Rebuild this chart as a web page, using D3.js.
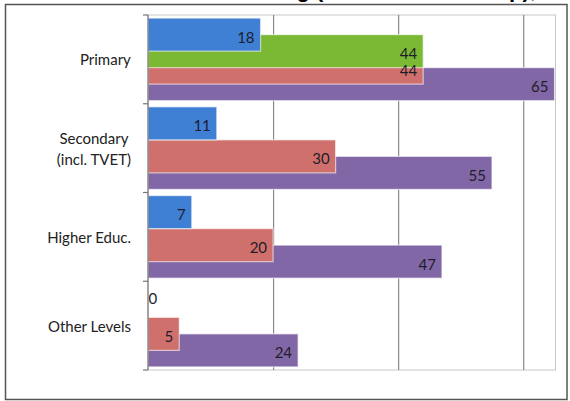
<!DOCTYPE html>
<html>
<head>
<meta charset="utf-8">
<script src="https://cdn.jsdelivr.net/npm/d3@7"></script>
<style>
  html, body { margin: 0; padding: 0; background: #fff; }
  svg { display: block; }
</style>
</head>
<body>
<svg id="chart" width="570" height="401"></svg>
<script>
// ---- data ----
const categories = ["Primary", "Secondary\n(incl. TVET)", "Higher Educ.", "Other Levels"];
const seriesNames = ["Series 1", "Series 2", "Series 3", "Series 4"];
const series1 = [18, 11, 7, 0];
const series2 = [44, null, null, null];
const series3 = [44, 30, 20, 5];
const series4 = [65, 55, 47, 24];
const xTicks = [0, 20, 40, 60];
const titleText = "Enrolment in Schooling (Share of the Group),";

// ---- styles ----
const colors = ["#3f7fd4", "#7bb834", "#d0706c", "#8167a5"];
const seriesValues = [series1, series2, series3, series4];

const W = 570, H = 401;
const plot = { left: 148, right: 554.5, top: 15, bottom: 370 };
const svg = d3.select("#chart");

svg.append("rect").attr("width", W).attr("height", H).attr("fill", "#fff");

// title (cropped above the frame, as in the source image)
svg.append("text")
  .attr("x", 536).attr("y", -3)
  .attr("text-anchor", "end")
  .attr("font-family", "Liberation Sans, Arial, sans-serif")
  .attr("font-weight", "bold")
  .attr("font-size", 22)
  .attr("fill", "#000")
  .text(titleText);

// outer frame
svg.append("rect")
  .attr("x", 5.5).attr("y", 4.5).attr("width", 561.5).attr("height", 395)
  .attr("fill", "none").attr("stroke", "#555").attr("stroke-width", 1.5);

const x = d3.scaleLinear().domain([0, 65]).range([plot.left, plot.right]);
const y = d3.scaleBand().domain(categories).range([plot.top, plot.bottom]).paddingInner(0).paddingOuter(0);

// plot area border
svg.append("rect")
  .attr("x", plot.left).attr("y", plot.top)
  .attr("width", plot.right - plot.left + 1).attr("height", plot.bottom - plot.top)
  .attr("fill", "none").attr("stroke", "#c8c8c8").attr("stroke-width", 1);

// gridlines
const gridAxis = d3.axisBottom(x).tickValues(xTicks.filter(t => t > 0))
  .tickSize(-(plot.bottom - plot.top)).tickFormat("");
const gg = svg.append("g").attr("transform", `translate(0,${plot.bottom})`).call(gridAxis);
gg.select(".domain").remove();
gg.selectAll(".tick line").attr("stroke", "#8a8a8a").attr("stroke-width", 1.2);

// bars: cluster with 50% overlap
const bw = y.bandwidth();
const barH = bw * 0.93 / 2.5;
const step = barH * 0.5;
const offset0 = (bw - (barH + 3 * step)) / 2;

const barsG = svg.append("g");
for (let s = seriesValues.length - 1; s >= 0; s--) {
  const vals = seriesValues[s];
  const g = barsG.append("g");
  g.selectAll("rect")
    .data(categories.map((c, i) => ({ c, v: vals[i] })).filter(d => d.v !== null && d.v > 0))
    .join("rect")
    .attr("x", x(0))
    .attr("y", d => y(d.c) + offset0 + s * step)
    .attr("width", d => x(d.v) - x(0))
    .attr("height", barH)
    .attr("fill", colors[s])
    .attr("stroke", "rgba(255,255,255,0.6)")
    .attr("stroke-width", 1.2);
}

// labels
const labelsG = svg.append("g")
  .attr("font-family", "Lato, Carlito, Calibri, sans-serif")
  .attr("font-size", 15)
  .attr("fill", "#1d1d2b");
seriesValues.forEach((vals, s) => {
  categories.forEach((c, i) => {
    const v = vals[i];
    if (v === null) return;
    const cy = y(c) + offset0 + s * step + barH / 2 + 2;
    const t = labelsG.append("text")
      .attr("y", cy)
      .attr("dominant-baseline", "central")
      .text(v);
    if (v === 0) {
      t.attr("x", x(0) + 0.5).attr("text-anchor", "start").attr("y", cy - 5);
    } else {
      t.attr("x", x(v) - 6).attr("text-anchor", "end");
    }
  });
});

// vertical (category) axis
const yAxis = d3.axisLeft(y).tickSize(5).tickFormat("");
const ya = svg.append("g").attr("transform", `translate(${plot.left},0)`).call(yAxis);
ya.selectAll(".tick").remove();
ya.select(".domain").remove();
ya.append("line").attr("x1", 0).attr("x2", 0).attr("y1", plot.top).attr("y2", plot.bottom)
  .attr("stroke", "#777").attr("stroke-width", 1.2);
const boundaries = categories.map(c => y(c)).concat([plot.bottom]);
ya.selectAll("line.b").data(boundaries).join("line").attr("class", "b")
  .attr("x1", -5).attr("x2", 0).attr("y1", d => d).attr("y2", d => d)
  .attr("stroke", "#777").attr("stroke-width", 1.2);

// category labels
const catG = svg.append("g")
  .attr("font-family", "Lato, Carlito, Calibri, sans-serif")
  .attr("font-size", 15)
  .attr("fill", "#222");
categories.forEach(c => {
  const lines = c.split("\n");
  const cy = y(c) + bw / 2;
  const lh = 21;
  const t = catG.append("text").attr("text-anchor", "middle");
  lines.forEach((ln, k) => {
    t.append("tspan").attr("x", 0)
      .attr("y", cy + (k - (lines.length - 1) / 2) * lh)
      .attr("dominant-baseline", "central")
      .text(ln);
  });
  const wmax = t.node().getBBox().width;
  const rightEdge = 131;
  t.selectAll("tspan").attr("x", rightEdge - wmax / 2);
});
</script>
</body>
</html>
